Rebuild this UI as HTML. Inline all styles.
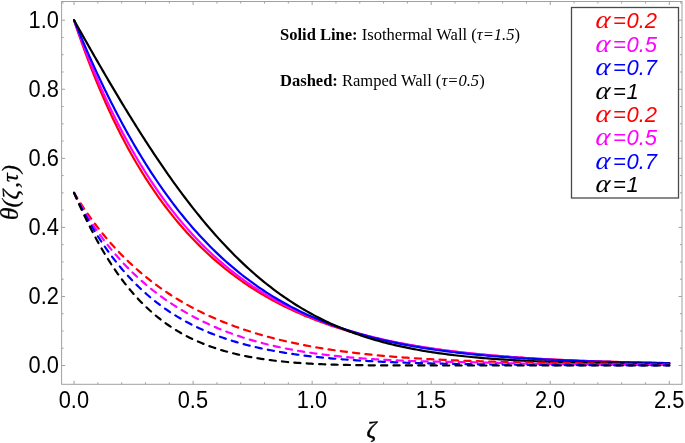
<!DOCTYPE html>
<html><head><meta charset="utf-8"><style>html,body{margin:0;padding:0;background:#fff;}svg{display:block;will-change:transform;}</style></head>
<body><svg width="685" height="443" viewBox="0 0 685 443">
<rect width="685" height="443" fill="#fff"/>
<g stroke="#a0a0a0" stroke-width="1" fill="none">
<rect x="61.6" y="1.5" width="620.4" height="382.8"/>
<line x1="74.05" y1="384.3" x2="74.05" y2="380.8"/><line x1="74.05" y1="1.5" x2="74.05" y2="5.0"/><line x1="97.86" y1="384.3" x2="97.86" y2="382.3"/><line x1="97.86" y1="1.5" x2="97.86" y2="3.5"/><line x1="121.67" y1="384.3" x2="121.67" y2="382.3"/><line x1="121.67" y1="1.5" x2="121.67" y2="3.5"/><line x1="145.48" y1="384.3" x2="145.48" y2="382.3"/><line x1="145.48" y1="1.5" x2="145.48" y2="3.5"/><line x1="169.29" y1="384.3" x2="169.29" y2="382.3"/><line x1="169.29" y1="1.5" x2="169.29" y2="3.5"/><line x1="193.10" y1="384.3" x2="193.10" y2="380.8"/><line x1="193.10" y1="1.5" x2="193.10" y2="5.0"/><line x1="216.91" y1="384.3" x2="216.91" y2="382.3"/><line x1="216.91" y1="1.5" x2="216.91" y2="3.5"/><line x1="240.72" y1="384.3" x2="240.72" y2="382.3"/><line x1="240.72" y1="1.5" x2="240.72" y2="3.5"/><line x1="264.53" y1="384.3" x2="264.53" y2="382.3"/><line x1="264.53" y1="1.5" x2="264.53" y2="3.5"/><line x1="288.34" y1="384.3" x2="288.34" y2="382.3"/><line x1="288.34" y1="1.5" x2="288.34" y2="3.5"/><line x1="312.15" y1="384.3" x2="312.15" y2="380.8"/><line x1="312.15" y1="1.5" x2="312.15" y2="5.0"/><line x1="335.96" y1="384.3" x2="335.96" y2="382.3"/><line x1="335.96" y1="1.5" x2="335.96" y2="3.5"/><line x1="359.77" y1="384.3" x2="359.77" y2="382.3"/><line x1="359.77" y1="1.5" x2="359.77" y2="3.5"/><line x1="383.58" y1="384.3" x2="383.58" y2="382.3"/><line x1="383.58" y1="1.5" x2="383.58" y2="3.5"/><line x1="407.39" y1="384.3" x2="407.39" y2="382.3"/><line x1="407.39" y1="1.5" x2="407.39" y2="3.5"/><line x1="431.20" y1="384.3" x2="431.20" y2="380.8"/><line x1="431.20" y1="1.5" x2="431.20" y2="5.0"/><line x1="455.01" y1="384.3" x2="455.01" y2="382.3"/><line x1="455.01" y1="1.5" x2="455.01" y2="3.5"/><line x1="478.82" y1="384.3" x2="478.82" y2="382.3"/><line x1="478.82" y1="1.5" x2="478.82" y2="3.5"/><line x1="502.63" y1="384.3" x2="502.63" y2="382.3"/><line x1="502.63" y1="1.5" x2="502.63" y2="3.5"/><line x1="526.44" y1="384.3" x2="526.44" y2="382.3"/><line x1="526.44" y1="1.5" x2="526.44" y2="3.5"/><line x1="550.25" y1="384.3" x2="550.25" y2="380.8"/><line x1="550.25" y1="1.5" x2="550.25" y2="5.0"/><line x1="574.06" y1="384.3" x2="574.06" y2="382.3"/><line x1="574.06" y1="1.5" x2="574.06" y2="3.5"/><line x1="597.87" y1="384.3" x2="597.87" y2="382.3"/><line x1="597.87" y1="1.5" x2="597.87" y2="3.5"/><line x1="621.68" y1="384.3" x2="621.68" y2="382.3"/><line x1="621.68" y1="1.5" x2="621.68" y2="3.5"/><line x1="645.49" y1="384.3" x2="645.49" y2="382.3"/><line x1="645.49" y1="1.5" x2="645.49" y2="3.5"/><line x1="669.30" y1="384.3" x2="669.30" y2="380.8"/><line x1="669.30" y1="1.5" x2="669.30" y2="5.0"/><line x1="61.6" y1="365.50" x2="65.1" y2="365.50"/><line x1="682.0" y1="365.50" x2="678.5" y2="365.50"/><line x1="61.6" y1="348.24" x2="63.6" y2="348.24"/><line x1="682.0" y1="348.24" x2="680.0" y2="348.24"/><line x1="61.6" y1="330.97" x2="63.6" y2="330.97"/><line x1="682.0" y1="330.97" x2="680.0" y2="330.97"/><line x1="61.6" y1="313.70" x2="63.6" y2="313.70"/><line x1="682.0" y1="313.70" x2="680.0" y2="313.70"/><line x1="61.6" y1="296.44" x2="65.1" y2="296.44"/><line x1="682.0" y1="296.44" x2="678.5" y2="296.44"/><line x1="61.6" y1="279.18" x2="63.6" y2="279.18"/><line x1="682.0" y1="279.18" x2="680.0" y2="279.18"/><line x1="61.6" y1="261.91" x2="63.6" y2="261.91"/><line x1="682.0" y1="261.91" x2="680.0" y2="261.91"/><line x1="61.6" y1="244.64" x2="63.6" y2="244.64"/><line x1="682.0" y1="244.64" x2="680.0" y2="244.64"/><line x1="61.6" y1="227.38" x2="65.1" y2="227.38"/><line x1="682.0" y1="227.38" x2="678.5" y2="227.38"/><line x1="61.6" y1="210.11" x2="63.6" y2="210.11"/><line x1="682.0" y1="210.11" x2="680.0" y2="210.11"/><line x1="61.6" y1="192.85" x2="63.6" y2="192.85"/><line x1="682.0" y1="192.85" x2="680.0" y2="192.85"/><line x1="61.6" y1="175.58" x2="63.6" y2="175.58"/><line x1="682.0" y1="175.58" x2="680.0" y2="175.58"/><line x1="61.6" y1="158.32" x2="65.1" y2="158.32"/><line x1="682.0" y1="158.32" x2="678.5" y2="158.32"/><line x1="61.6" y1="141.05" x2="63.6" y2="141.05"/><line x1="682.0" y1="141.05" x2="680.0" y2="141.05"/><line x1="61.6" y1="123.79" x2="63.6" y2="123.79"/><line x1="682.0" y1="123.79" x2="680.0" y2="123.79"/><line x1="61.6" y1="106.52" x2="63.6" y2="106.52"/><line x1="682.0" y1="106.52" x2="680.0" y2="106.52"/><line x1="61.6" y1="89.26" x2="65.1" y2="89.26"/><line x1="682.0" y1="89.26" x2="678.5" y2="89.26"/><line x1="61.6" y1="71.99" x2="63.6" y2="71.99"/><line x1="682.0" y1="71.99" x2="680.0" y2="71.99"/><line x1="61.6" y1="54.73" x2="63.6" y2="54.73"/><line x1="682.0" y1="54.73" x2="680.0" y2="54.73"/><line x1="61.6" y1="37.46" x2="63.6" y2="37.46"/><line x1="682.0" y1="37.46" x2="680.0" y2="37.46"/><line x1="61.6" y1="20.20" x2="65.1" y2="20.20"/><line x1="682.0" y1="20.20" x2="678.5" y2="20.20"/><line x1="61.6" y1="2.93" x2="63.6" y2="2.93"/><line x1="682.0" y1="2.93" x2="680.0" y2="2.93"/>
</g>
<g font-family="Liberation Sans" font-size="22.5" fill="#000">
<text transform="translate(58.9,373.00) scale(0.97,1.09)" text-anchor="end">0.0</text><text transform="translate(58.9,303.94) scale(0.97,1.09)" text-anchor="end">0.2</text><text transform="translate(58.9,234.88) scale(0.97,1.09)" text-anchor="end">0.4</text><text transform="translate(58.9,165.82) scale(0.97,1.09)" text-anchor="end">0.6</text><text transform="translate(58.9,96.76) scale(0.97,1.09)" text-anchor="end">0.8</text><text transform="translate(58.9,27.70) scale(0.97,1.09)" text-anchor="end">1.0</text><text transform="translate(73.85,407.9) scale(0.97,1.09)" text-anchor="middle">0.0</text><text transform="translate(192.90,407.9) scale(0.97,1.09)" text-anchor="middle">0.5</text><text transform="translate(311.95,407.9) scale(0.97,1.09)" text-anchor="middle">1.0</text><text transform="translate(431.00,407.9) scale(0.97,1.09)" text-anchor="middle">1.5</text><text transform="translate(550.05,407.9) scale(0.97,1.09)" text-anchor="middle">2.0</text><text transform="translate(669.10,407.9) scale(0.97,1.09)" text-anchor="middle">2.5</text>
</g>
<g font-family="Liberation Serif" font-size="16.55" fill="#000">
<text x="280" y="39.6"><tspan font-weight="bold">Solid Line:</tspan> Isothermal Wall (<tspan font-style="italic">τ=1.5</tspan>)</text>
<text x="280" y="85.9"><tspan font-weight="bold">Dashed:</tspan> Ramped Wall (<tspan font-style="italic">τ=0.5</tspan>)</text>
</g>
<text x="366.6" y="436.9" font-family="Liberation Serif" font-style="italic" font-size="24" stroke="#000" stroke-width="0.5">ζ</text>
<g transform="translate(17.6,220) rotate(-90)" font-family="Liberation Serif" font-style="italic" font-size="24" stroke="#000" stroke-width="0.25"><text x="-0.3" font-size="26">θ</text><text x="12.5">(</text><text x="20.5">ζ</text><text x="32">,</text><text x="38">τ</text><text x="47">)</text></g>
<g clip-path="url(#c)">
<polyline points="74.05,20.20 75.24,23.78 76.43,27.32 77.62,30.82 78.81,34.29 80.00,37.71 81.19,41.09 82.38,44.43 83.57,47.74 84.76,51.01 85.95,54.24 87.15,57.44 88.34,60.60 89.53,63.72 90.72,66.81 91.91,69.86 93.10,72.88 94.29,75.87 95.48,78.82 96.67,81.74 97.86,84.63 99.05,87.49 100.24,90.31 101.43,93.11 102.62,95.87 103.81,98.61 105.00,101.31 106.19,103.98 107.38,106.63 108.57,109.24 109.76,111.83 110.96,114.39 112.15,116.92 113.34,119.42 114.53,121.90 115.72,124.35 116.91,126.77 118.10,129.17 119.29,131.54 120.48,133.89 121.67,136.21 122.86,138.51 124.05,140.78 125.24,143.03 126.43,145.25 127.62,147.45 128.81,149.63 130.00,151.79 131.19,153.92 132.38,156.03 133.57,158.11 134.77,160.18 135.96,162.22 137.15,164.25 138.34,166.25 139.53,168.23 140.72,170.19 141.91,172.13 143.10,174.04 144.29,175.94 145.48,177.82 146.67,179.68 149.06,183.35 151.44,186.95 153.83,190.47 156.22,193.92 158.60,197.30 160.99,200.61 163.38,203.85 165.76,207.03 168.15,210.14 170.53,213.19 172.92,216.18 175.31,219.11 177.69,221.98 180.08,224.80 182.47,227.55 184.85,230.26 187.24,232.90 189.63,235.50 192.01,238.05 194.40,240.54 196.79,242.98 199.17,245.38 201.56,247.73 203.94,250.04 206.33,252.29 208.72,254.51 211.10,256.68 213.49,258.81 215.88,260.90 218.26,262.94 220.65,264.95 223.04,266.92 225.42,268.85 227.81,270.74 230.20,272.60 232.58,274.42 234.97,276.20 237.36,277.95 239.74,279.67 242.13,281.35 244.51,283.00 246.90,284.62 249.29,286.21 251.67,287.76 254.06,289.29 256.45,290.79 258.83,292.26 261.22,293.70 263.61,295.11 265.99,296.50 268.38,297.86 270.77,299.19 273.15,300.50 275.54,301.78 277.92,303.04 280.31,304.27 282.70,305.48 285.08,306.67 287.47,307.83 289.86,308.98 292.24,310.10 294.63,311.19 297.02,312.27 299.40,313.33 301.79,314.36 304.18,315.38 306.56,316.38 308.95,317.35 311.33,318.31 313.72,319.25 316.11,320.18 318.49,321.08 320.88,321.97 323.27,322.84 325.65,323.69 328.04,324.53 330.43,325.35 332.81,326.15 335.20,326.94 337.59,327.71 339.97,328.47 342.36,329.21 344.74,329.94 347.13,330.66 349.52,331.36 351.90,332.05 354.29,332.72 356.68,333.38 359.06,334.03 361.45,334.66 363.84,335.29 366.22,335.90 368.61,336.49 371.00,337.08 373.38,337.66 375.77,338.22 378.15,338.77 380.54,339.31 382.93,339.85 385.31,340.37 387.70,340.88 390.09,341.38 392.47,341.87 394.86,342.35 397.25,342.82 399.63,343.28 402.02,343.73 404.41,344.17 406.79,344.61 409.18,345.03 411.56,345.45 413.95,345.86 416.34,346.26 418.72,346.65 421.11,347.04 423.50,347.41 425.88,347.78 428.27,348.14 430.66,348.50 433.04,348.85 435.43,349.19 437.82,349.52 440.20,349.84 442.59,350.16 444.98,350.48 447.36,350.78 449.75,351.08 452.13,351.38 454.52,351.67 456.91,351.95 459.29,352.23 461.68,352.50 464.07,352.76 466.45,353.02 468.84,353.28 471.23,353.52 473.61,353.77 476.00,354.01 478.39,354.24 480.77,354.47 483.16,354.69 485.54,354.91 487.93,355.13 490.32,355.34 492.70,355.55 495.09,355.75 497.48,355.95 499.86,356.14 502.25,356.33 504.64,356.51 507.02,356.70 509.41,356.87 511.80,357.05 514.18,357.22 516.57,357.38 518.95,357.55 521.34,357.71 523.73,357.86 526.11,358.02 528.50,358.17 530.89,358.31 533.27,358.45 535.66,358.60 538.05,358.73 540.43,358.87 542.82,359.00 545.21,359.13 547.59,359.25 549.98,359.38 552.36,359.50 554.75,359.61 557.14,359.73 559.52,359.84 561.91,359.95 564.30,360.06 566.68,360.17 569.07,360.27 571.46,360.37 573.84,360.47 576.23,360.57 578.62,360.66 581.00,360.76 583.39,360.85 585.77,360.94 588.16,361.02 590.55,361.11 592.93,361.19 595.32,361.27 597.71,361.35 600.09,361.43 602.48,361.51 604.87,361.58 607.25,361.65 609.64,361.72 612.03,361.79 614.41,361.86 616.80,361.93 619.18,361.99 621.57,362.06 623.96,362.12 626.34,362.18 628.73,362.24 631.12,362.30 633.50,362.36 635.89,362.41 638.28,362.47 640.66,362.52 643.05,362.57 645.44,362.62 647.82,362.67 650.21,362.72 652.59,362.77 654.98,362.82 657.37,362.86 659.75,362.91 662.14,362.95 664.53,362.99 666.91,363.03 669.30,363.07" fill="none" stroke="#ff0000" stroke-width="2.2" stroke-linecap="round"/><polyline points="74.05,20.20 75.24,23.50 76.43,26.78 77.62,30.02 78.81,33.23 80.00,36.41 81.19,39.56 82.38,42.69 83.57,45.78 84.76,48.84 85.95,51.88 87.15,54.89 88.34,57.87 89.53,60.82 90.72,63.74 91.91,66.64 93.10,69.51 94.29,72.35 95.48,75.17 96.67,77.96 97.86,80.72 99.05,83.46 100.24,86.17 101.43,88.86 102.62,91.52 103.81,94.16 105.00,96.77 106.19,99.36 107.38,101.92 108.57,104.46 109.76,106.98 110.96,109.47 112.15,111.94 113.34,114.38 114.53,116.80 115.72,119.20 116.91,121.58 118.10,123.94 119.29,126.27 120.48,128.58 121.67,130.87 122.86,133.14 124.05,135.38 125.24,137.61 126.43,139.81 127.62,142.00 128.81,144.16 130.00,146.30 131.19,148.43 132.38,150.53 133.57,152.61 134.77,154.68 135.96,156.72 137.15,158.74 138.34,160.75 139.53,162.74 140.72,164.71 141.91,166.65 143.10,168.59 144.29,170.50 145.48,172.39 146.67,174.27 149.06,177.98 151.44,181.62 153.83,185.19 156.22,188.69 158.60,192.13 160.99,195.50 163.38,198.81 165.76,202.06 168.15,205.24 170.53,208.37 172.92,211.43 175.31,214.44 177.69,217.39 180.08,220.28 182.47,223.12 184.85,225.91 187.24,228.64 189.63,231.32 192.01,233.95 194.40,236.53 196.79,239.06 199.17,241.54 201.56,243.98 203.94,246.37 206.33,248.71 208.72,251.01 211.10,253.26 213.49,255.47 215.88,257.64 218.26,259.77 220.65,261.86 223.04,263.90 225.42,265.91 227.81,267.88 230.20,269.81 232.58,271.70 234.97,273.56 237.36,275.38 239.74,277.17 242.13,278.92 244.51,280.64 246.90,282.32 249.29,283.98 251.67,285.60 254.06,287.19 256.45,288.75 258.83,290.27 261.22,291.77 263.61,293.24 265.99,294.68 268.38,296.10 270.77,297.48 273.15,298.84 275.54,300.18 277.92,301.48 280.31,302.76 282.70,304.02 285.08,305.25 287.47,306.46 289.86,307.64 292.24,308.80 294.63,309.94 297.02,311.06 299.40,312.15 301.79,313.22 304.18,314.28 306.56,315.31 308.95,316.32 311.33,317.31 313.72,318.28 316.11,319.23 318.49,320.17 320.88,321.08 323.27,321.98 325.65,322.86 328.04,323.72 330.43,324.57 332.81,325.39 335.20,326.21 337.59,327.00 339.97,327.78 342.36,328.55 344.74,329.30 347.13,330.03 349.52,330.75 351.90,331.46 354.29,332.15 356.68,332.83 359.06,333.49 361.45,334.14 363.84,334.78 366.22,335.41 368.61,336.02 371.00,336.62 373.38,337.21 375.77,337.79 378.15,338.35 380.54,338.91 382.93,339.45 385.31,339.98 387.70,340.50 390.09,341.01 392.47,341.52 394.86,342.01 397.25,342.49 399.63,342.96 402.02,343.42 404.41,343.87 406.79,344.32 409.18,344.75 411.56,345.18 413.95,345.59 416.34,346.00 418.72,346.40 421.11,346.79 423.50,347.18 425.88,347.55 428.27,347.92 430.66,348.28 433.04,348.64 435.43,348.98 437.82,349.32 440.20,349.66 442.59,349.98 444.98,350.30 447.36,350.62 449.75,350.92 452.13,351.22 454.52,351.52 456.91,351.80 459.29,352.09 461.68,352.36 464.07,352.63 466.45,352.90 468.84,353.16 471.23,353.41 473.61,353.66 476.00,353.91 478.39,354.15 480.77,354.38 483.16,354.61 485.54,354.84 487.93,355.06 490.32,355.27 492.70,355.48 495.09,355.69 497.48,355.89 499.86,356.09 502.25,356.29 504.64,356.48 507.02,356.66 509.41,356.84 511.80,357.02 514.18,357.20 516.57,357.37 518.95,357.54 521.34,357.70 523.73,357.86 526.11,358.02 528.50,358.18 530.89,358.33 533.27,358.48 535.66,358.62 538.05,358.76 540.43,358.90 542.82,359.04 545.21,359.17 547.59,359.30 549.98,359.43 552.36,359.56 554.75,359.68 557.14,359.80 559.52,359.92 561.91,360.03 564.30,360.14 566.68,360.25 569.07,360.36 571.46,360.47 573.84,360.57 576.23,360.67 578.62,360.77 581.00,360.87 583.39,360.97 585.77,361.06 588.16,361.15 590.55,361.24 592.93,361.33 595.32,361.41 597.71,361.50 600.09,361.58 602.48,361.66 604.87,361.74 607.25,361.82 609.64,361.89 612.03,361.97 614.41,362.04 616.80,362.11 619.18,362.18 621.57,362.25 623.96,362.31 626.34,362.38 628.73,362.44 631.12,362.50 633.50,362.57 635.89,362.63 638.28,362.68 640.66,362.74 643.05,362.80 645.44,362.85 647.82,362.91 650.21,362.96 652.59,363.01 654.98,363.06 657.37,363.11 659.75,363.16 662.14,363.21 664.53,363.25 666.91,363.30 669.30,363.34" fill="none" stroke="#ff00ff" stroke-width="2.2" stroke-linecap="round"/><polyline points="74.05,20.20 75.24,23.11 76.43,26.01 77.62,28.88 78.81,31.74 80.00,34.57 81.19,37.39 82.38,40.19 83.57,42.97 84.76,45.74 85.95,48.48 87.15,51.21 88.34,53.91 89.53,56.60 90.72,59.27 91.91,61.92 93.10,64.56 94.29,67.18 95.48,69.77 96.67,72.35 97.86,74.92 99.05,77.46 100.24,79.99 101.43,82.50 102.62,84.99 103.81,87.46 105.00,89.92 106.19,92.35 107.38,94.78 108.57,97.18 109.76,99.57 110.96,101.94 112.15,104.29 113.34,106.62 114.53,108.94 115.72,111.24 116.91,113.53 118.10,115.80 119.29,118.05 120.48,120.28 121.67,122.50 122.86,124.70 124.05,126.89 125.24,129.05 126.43,131.21 127.62,133.34 128.81,135.46 130.00,137.57 131.19,139.66 132.38,141.73 133.57,143.78 134.77,145.83 135.96,147.85 137.15,149.86 138.34,151.85 139.53,153.83 140.72,155.80 141.91,157.74 143.10,159.68 144.29,161.60 145.48,163.50 146.67,165.39 149.06,169.13 151.44,172.81 153.83,176.43 156.22,179.99 158.60,183.50 160.99,186.95 163.38,190.34 165.76,193.68 168.15,196.96 170.53,200.19 172.92,203.37 175.31,206.49 177.69,209.56 180.08,212.58 182.47,215.55 184.85,218.47 187.24,221.34 189.63,224.16 192.01,226.93 194.40,229.65 196.79,232.33 199.17,234.96 201.56,237.54 203.94,240.08 206.33,242.57 208.72,245.02 211.10,247.42 213.49,249.79 215.88,252.11 218.26,254.38 220.65,256.62 223.04,258.82 225.42,260.98 227.81,263.09 230.20,265.17 232.58,267.21 234.97,269.21 237.36,271.18 239.74,273.11 242.13,275.00 244.51,276.86 246.90,278.68 249.29,280.47 251.67,282.22 254.06,283.94 256.45,285.63 258.83,287.29 261.22,288.91 263.61,290.51 265.99,292.07 268.38,293.60 270.77,295.10 273.15,296.57 275.54,298.02 277.92,299.43 280.31,300.82 282.70,302.18 285.08,303.52 287.47,304.82 289.86,306.11 292.24,307.36 294.63,308.59 297.02,309.80 299.40,310.98 301.79,312.14 304.18,313.27 306.56,314.38 308.95,315.47 311.33,316.54 313.72,317.59 316.11,318.61 318.49,319.61 320.88,320.59 323.27,321.56 325.65,322.50 328.04,323.42 330.43,324.33 332.81,325.21 335.20,326.08 337.59,326.92 339.97,327.76 342.36,328.57 344.74,329.36 347.13,330.14 349.52,330.91 351.90,331.65 354.29,332.39 356.68,333.10 359.06,333.80 361.45,334.49 363.84,335.16 366.22,335.81 368.61,336.46 371.00,337.09 373.38,337.70 375.77,338.30 378.15,338.89 380.54,339.47 382.93,340.03 385.31,340.58 387.70,341.12 390.09,341.65 392.47,342.17 394.86,342.67 397.25,343.17 399.63,343.65 402.02,344.13 404.41,344.59 406.79,345.04 409.18,345.48 411.56,345.92 413.95,346.34 416.34,346.75 418.72,347.16 421.11,347.55 423.50,347.94 425.88,348.32 428.27,348.69 430.66,349.05 433.04,349.41 435.43,349.75 437.82,350.09 440.20,350.42 442.59,350.75 444.98,351.06 447.36,351.37 449.75,351.68 452.13,351.97 454.52,352.26 456.91,352.54 459.29,352.82 461.68,353.09 464.07,353.35 466.45,353.61 468.84,353.87 471.23,354.11 473.61,354.35 476.00,354.59 478.39,354.82 480.77,355.04 483.16,355.26 485.54,355.48 487.93,355.69 490.32,355.90 492.70,356.10 495.09,356.29 497.48,356.49 499.86,356.67 502.25,356.86 504.64,357.04 507.02,357.21 509.41,357.38 511.80,357.55 514.18,357.71 516.57,357.87 518.95,358.03 521.34,358.18 523.73,358.33 526.11,358.48 528.50,358.62 530.89,358.76 533.27,358.90 535.66,359.03 538.05,359.16 540.43,359.29 542.82,359.41 545.21,359.54 547.59,359.65 549.98,359.77 552.36,359.88 554.75,359.99 557.14,360.10 559.52,360.21 561.91,360.31 564.30,360.41 566.68,360.51 569.07,360.61 571.46,360.70 573.84,360.80 576.23,360.89 578.62,360.98 581.00,361.06 583.39,361.15 585.77,361.23 588.16,361.31 590.55,361.39 592.93,361.47 595.32,361.54 597.71,361.61 600.09,361.69 602.48,361.76 604.87,361.83 607.25,361.89 609.64,361.96 612.03,362.02 614.41,362.09 616.80,362.15 619.18,362.21 621.57,362.26 623.96,362.32 626.34,362.38 628.73,362.43 631.12,362.49 633.50,362.54 635.89,362.59 638.28,362.64 640.66,362.69 643.05,362.74 645.44,362.78 647.82,362.83 650.21,362.87 652.59,362.92 654.98,362.96 657.37,363.00 659.75,363.04 662.14,363.08 664.53,363.12 666.91,363.16 669.30,363.20" fill="none" stroke="#0000ff" stroke-width="2.2" stroke-linecap="round"/><polyline points="74.05,20.20 75.24,22.32 76.43,24.44 77.62,26.56 78.81,28.67 80.00,30.78 81.19,32.90 82.38,35.00 83.57,37.11 84.76,39.21 85.95,41.31 87.15,43.41 88.34,45.50 89.53,47.59 90.72,49.68 91.91,51.77 93.10,53.85 94.29,55.93 95.48,58.00 96.67,60.08 97.86,62.14 99.05,64.21 100.24,66.27 101.43,68.32 102.62,70.38 103.81,72.42 105.00,74.47 106.19,76.51 107.38,78.54 108.57,80.57 109.76,82.60 110.96,84.62 112.15,86.64 113.34,88.65 114.53,90.66 115.72,92.66 116.91,94.65 118.10,96.65 119.29,98.63 120.48,100.61 121.67,102.59 122.86,104.56 124.05,106.52 125.24,108.48 126.43,110.43 127.62,112.38 128.81,114.32 130.00,116.25 131.19,118.18 132.38,120.10 133.57,122.02 134.77,123.93 135.96,125.83 137.15,127.72 138.34,129.61 139.53,131.50 140.72,133.37 141.91,135.24 143.10,137.10 144.29,138.96 145.48,140.81 146.67,142.65 149.06,146.31 151.44,149.95 153.83,153.56 156.22,157.14 158.60,160.68 160.99,164.20 163.38,167.68 165.76,171.13 168.15,174.55 170.53,177.93 172.92,181.28 175.31,184.60 177.69,187.88 180.08,191.12 182.47,194.33 184.85,197.51 187.24,200.65 189.63,203.75 192.01,206.82 194.40,209.85 196.79,212.85 199.17,215.80 201.56,218.73 203.94,221.61 206.33,224.45 208.72,227.26 211.10,230.03 213.49,232.77 215.88,235.46 218.26,238.12 220.65,240.74 223.04,243.33 225.42,245.87 227.81,248.38 230.20,250.85 232.58,253.29 234.97,255.68 237.36,258.04 239.74,260.36 242.13,262.65 244.51,264.89 246.90,267.10 249.29,269.28 251.67,271.42 254.06,273.52 256.45,275.58 258.83,277.61 261.22,279.61 263.61,281.57 265.99,283.49 268.38,285.38 270.77,287.24 273.15,289.06 275.54,290.84 277.92,292.60 280.31,294.32 282.70,296.00 285.08,297.66 287.47,299.28 289.86,300.87 292.24,302.43 294.63,303.96 297.02,305.45 299.40,306.92 301.79,308.36 304.18,309.76 306.56,311.14 308.95,312.49 311.33,313.81 313.72,315.10 316.11,316.36 318.49,317.60 320.88,318.81 323.27,319.99 325.65,321.15 328.04,322.28 330.43,323.38 332.81,324.46 335.20,325.52 337.59,326.55 339.97,327.56 342.36,328.54 344.74,329.50 347.13,330.44 349.52,331.36 351.90,332.25 354.29,333.12 356.68,333.98 359.06,334.81 361.45,335.62 363.84,336.41 366.22,337.18 368.61,337.94 371.00,338.67 373.38,339.39 375.77,340.09 378.15,340.77 380.54,341.43 382.93,342.08 385.31,342.71 387.70,343.32 390.09,343.92 392.47,344.50 394.86,345.07 397.25,345.62 399.63,346.16 402.02,346.68 404.41,347.19 406.79,347.69 409.18,348.17 411.56,348.64 413.95,349.10 416.34,349.54 418.72,349.98 421.11,350.40 423.50,350.81 425.88,351.21 428.27,351.60 430.66,351.97 433.04,352.34 435.43,352.70 437.82,353.04 440.20,353.38 442.59,353.71 444.98,354.03 447.36,354.34 449.75,354.64 452.13,354.93 454.52,355.22 456.91,355.49 459.29,355.76 461.68,356.02 464.07,356.27 466.45,356.52 468.84,356.76 471.23,356.99 473.61,357.22 476.00,357.44 478.39,357.65 480.77,357.86 483.16,358.06 485.54,358.25 487.93,358.44 490.32,358.62 492.70,358.80 495.09,358.98 497.48,359.14 499.86,359.31 502.25,359.47 504.64,359.62 507.02,359.77 509.41,359.91 511.80,360.05 514.18,360.19 516.57,360.32 518.95,360.45 521.34,360.58 523.73,360.70 526.11,360.81 528.50,360.93 530.89,361.04 533.27,361.15 535.66,361.25 538.05,361.35 540.43,361.45 542.82,361.54 545.21,361.64 547.59,361.73 549.98,361.81 552.36,361.90 554.75,361.98 557.14,362.06 559.52,362.13 561.91,362.21 564.30,362.28 566.68,362.35 569.07,362.42 571.46,362.48 573.84,362.55 576.23,362.61 578.62,362.67 581.00,362.73 583.39,362.78 585.77,362.84 588.16,362.89 590.55,362.94 592.93,362.99 595.32,363.04 597.71,363.08 600.09,363.13 602.48,363.17 604.87,363.21 607.25,363.26 609.64,363.30 612.03,363.33 614.41,363.37 616.80,363.41 619.18,363.44 621.57,363.47 623.96,363.51 626.34,363.54 628.73,363.57 631.12,363.60 633.50,363.62 635.89,363.65 638.28,363.68 640.66,363.70 643.05,363.73 645.44,363.75 647.82,363.77 650.21,363.79 652.59,363.81 654.98,363.83 657.37,363.85 659.75,363.87 662.14,363.89 664.53,363.90 666.91,363.92 669.30,363.93" fill="none" stroke="#000000" stroke-width="2.2" stroke-linecap="round"/><polyline points="74.05,192.85 75.24,194.80 76.43,196.73 77.62,198.63 78.81,200.51 80.00,202.37 81.19,204.20 82.38,206.01 83.57,207.80 84.76,209.56 85.95,211.31 87.15,213.03 88.34,214.73 89.53,216.41 90.72,218.07 91.91,219.71 93.10,221.32 94.29,222.92 95.48,224.50 96.67,226.07 97.86,227.61 99.05,229.13 100.24,230.64 101.43,232.13 102.62,233.60 103.81,235.05 105.00,236.48 106.19,237.90 107.38,239.30 108.57,240.69 109.76,242.06 110.96,243.41 112.15,244.75 113.34,246.07 114.53,247.38 115.72,248.67 116.91,249.95 118.10,251.21 119.29,252.46 120.48,253.69 121.67,254.91 122.86,256.11 124.05,257.30 125.24,258.48 126.43,259.65 127.62,260.80 128.81,261.94 130.00,263.06 131.19,264.17 132.38,265.27 133.57,266.36 134.77,267.44 135.96,268.50 137.15,269.55 138.34,270.59 139.53,271.62 140.72,272.64 141.91,273.65 143.10,274.64 144.29,275.63 145.48,276.60 146.67,277.56 149.06,279.46 151.44,281.32 153.83,283.13 156.22,284.91 158.60,286.65 160.99,288.35 163.38,290.01 165.76,291.64 168.15,293.23 170.53,294.79 172.92,296.32 175.31,297.81 177.69,299.27 180.08,300.70 182.47,302.10 184.85,303.47 187.24,304.82 189.63,306.13 192.01,307.41 194.40,308.67 196.79,309.90 199.17,311.11 201.56,312.29 203.94,313.45 206.33,314.58 208.72,315.69 211.10,316.77 213.49,317.83 215.88,318.87 218.26,319.89 220.65,320.88 223.04,321.86 225.42,322.81 227.81,323.75 230.20,324.66 232.58,325.56 234.97,326.43 237.36,327.29 239.74,328.13 242.13,328.95 244.51,329.76 246.90,330.55 249.29,331.32 251.67,332.07 254.06,332.81 256.45,333.53 258.83,334.24 261.22,334.93 263.61,335.61 265.99,336.27 268.38,336.92 270.77,337.56 273.15,338.18 275.54,338.79 277.92,339.38 280.31,339.96 282.70,340.53 285.08,341.09 287.47,341.63 289.86,342.17 292.24,342.69 294.63,343.20 297.02,343.70 299.40,344.18 301.79,344.66 304.18,345.13 306.56,345.58 308.95,346.03 311.33,346.46 313.72,346.89 316.11,347.31 318.49,347.71 320.88,348.11 323.27,348.50 325.65,348.88 328.04,349.25 330.43,349.62 332.81,349.97 335.20,350.32 337.59,350.66 339.97,350.99 342.36,351.31 344.74,351.63 347.13,351.94 349.52,352.24 351.90,352.54 354.29,352.82 356.68,353.11 359.06,353.38 361.45,353.65 363.84,353.91 366.22,354.17 368.61,354.42 371.00,354.66 373.38,354.90 375.77,355.13 378.15,355.36 380.54,355.58 382.93,355.80 385.31,356.01 387.70,356.22 390.09,356.42 392.47,356.62 394.86,356.81 397.25,356.99 399.63,357.18 402.02,357.36 404.41,357.53 406.79,357.70 409.18,357.86 411.56,358.03 413.95,358.18 416.34,358.34 418.72,358.49 421.11,358.63 423.50,358.78 425.88,358.91 428.27,359.05 430.66,359.18 433.04,359.31 435.43,359.44 437.82,359.56 440.20,359.68 442.59,359.80 444.98,359.91 447.36,360.02 449.75,360.13 452.13,360.23 454.52,360.33 456.91,360.43 459.29,360.53 461.68,360.63 464.07,360.72 466.45,360.81 468.84,360.90 471.23,360.98 473.61,361.06 476.00,361.14 478.39,361.22 480.77,361.30 483.16,361.37 485.54,361.45 487.93,361.52 490.32,361.58 492.70,361.65 495.09,361.72 497.48,361.78 499.86,361.84 502.25,361.90 504.64,361.96 507.02,362.01 509.41,362.07 511.80,362.12 514.18,362.17 516.57,362.22 518.95,362.27 521.34,362.32 523.73,362.37 526.11,362.41 528.50,362.45 530.89,362.49 533.27,362.54 535.66,362.57 538.05,362.61 540.43,362.65 542.82,362.68 545.21,362.72 547.59,362.75 549.98,362.78 552.36,362.81 554.75,362.84 557.14,362.87 559.52,362.90 561.91,362.93 564.30,362.95 566.68,362.98 569.07,363.00 571.46,363.05 573.84,363.10 576.23,363.15 578.62,363.19 581.00,363.24 583.39,363.29 585.77,363.33 588.16,363.37 590.55,363.42 592.93,363.46 595.32,363.50 597.71,363.54 600.09,363.58 602.48,363.62 604.87,363.66 607.25,363.69 609.64,363.73 612.03,363.77 614.41,363.80 616.80,363.84 619.18,363.87 621.57,363.90 623.96,363.93 626.34,363.97 628.73,364.00 631.12,364.03 633.50,364.06 635.89,364.09 638.28,364.11 640.66,364.14 643.05,364.17 645.44,364.20 647.82,364.22 650.21,364.25 652.59,364.27 654.98,364.30 657.37,364.32 659.75,364.35 662.14,364.37 664.53,364.39 666.91,364.42 669.30,364.44" fill="none" stroke="#ff0000" stroke-width="2.2" stroke-linecap="round" stroke-dasharray="6.2 6.2"/><polyline points="74.05,192.85 75.24,195.10 76.43,197.31 77.62,199.49 78.81,201.63 80.00,203.74 81.19,205.82 82.38,207.87 83.57,209.89 84.76,211.88 85.95,213.83 87.15,215.76 88.34,217.66 89.53,219.53 90.72,221.38 91.91,223.20 93.10,224.99 94.29,226.76 95.48,228.50 96.67,230.22 97.86,231.91 99.05,233.58 100.24,235.23 101.43,236.86 102.62,238.46 103.81,240.04 105.00,241.60 106.19,243.14 107.38,244.65 108.57,246.15 109.76,247.63 110.96,249.08 112.15,250.52 113.34,251.94 114.53,253.34 115.72,254.73 116.91,256.09 118.10,257.44 119.29,258.77 120.48,260.09 121.67,261.38 122.86,262.66 124.05,263.93 125.24,265.18 126.43,266.41 127.62,267.63 128.81,268.83 130.00,270.02 131.19,271.19 132.38,272.35 133.57,273.50 134.77,274.63 135.96,275.75 137.15,276.85 138.34,277.94 139.53,279.02 140.72,280.08 141.91,281.13 143.10,282.17 144.29,283.20 145.48,284.22 146.67,285.22 149.06,287.20 151.44,289.12 153.83,291.01 156.22,292.85 158.60,294.65 160.99,296.41 163.38,298.12 165.76,299.80 168.15,301.44 170.53,303.04 172.92,304.61 175.31,306.14 177.69,307.63 180.08,309.09 182.47,310.52 184.85,311.91 187.24,313.28 189.63,314.61 192.01,315.91 194.40,317.18 196.79,318.42 199.17,319.64 201.56,320.82 203.94,321.98 206.33,323.11 208.72,324.22 211.10,325.30 213.49,326.35 215.88,327.38 218.26,328.39 220.65,329.37 223.04,330.33 225.42,331.26 227.81,332.17 230.20,333.06 232.58,333.93 234.97,334.78 237.36,335.61 239.74,336.41 242.13,337.20 244.51,337.97 246.90,338.71 249.29,339.44 251.67,340.15 254.06,340.85 256.45,341.52 258.83,342.18 261.22,342.82 263.61,343.44 265.99,344.05 268.38,344.64 270.77,345.21 273.15,345.77 275.54,346.32 277.92,346.85 280.31,347.36 282.70,347.87 285.08,348.35 287.47,348.83 289.86,349.29 292.24,349.74 294.63,350.17 297.02,350.60 299.40,351.01 301.79,351.41 304.18,351.80 306.56,352.18 308.95,352.54 311.33,352.90 313.72,353.24 316.11,353.58 318.49,353.90 320.88,354.22 323.27,354.52 325.65,354.82 328.04,355.11 330.43,355.39 332.81,355.66 335.20,355.92 337.59,356.17 339.97,356.42 342.36,356.66 344.74,356.89 347.13,357.11 349.52,357.33 351.90,357.53 354.29,357.74 356.68,357.93 359.06,358.12 361.45,358.31 363.84,358.48 366.22,358.66 368.61,358.82 371.00,358.98 373.38,359.14 375.77,359.29 378.15,359.43 380.54,359.57 382.93,359.70 385.31,359.83 387.70,359.96 390.09,360.08 392.47,360.20 394.86,360.31 397.25,360.41 399.63,360.52 402.02,360.62 404.41,360.71 406.79,360.81 409.18,360.90 411.56,360.98 413.95,361.06 416.34,361.14 418.72,361.21 421.11,361.29 423.50,361.35 425.88,361.42 428.27,361.48 430.66,361.54 433.04,361.60 435.43,361.65 437.82,361.70 440.20,361.75 442.59,361.79 444.98,361.84 447.36,361.88 449.75,361.91 452.13,361.95 454.52,361.98 456.91,362.01 459.29,362.03 461.68,362.06 464.07,362.08 466.45,362.10 468.84,362.11 471.23,362.18 473.61,362.26 476.00,362.33 478.39,362.41 480.77,362.48 483.16,362.55 485.54,362.62 487.93,362.69 490.32,362.76 492.70,362.82 495.09,362.88 497.48,362.94 499.86,363.00 502.25,363.06 504.64,363.12 507.02,363.18 509.41,363.23 511.80,363.28 514.18,363.34 516.57,363.39 518.95,363.44 521.34,363.48 523.73,363.53 526.11,363.58 528.50,363.62 530.89,363.67 533.27,363.71 535.66,363.75 538.05,363.79 540.43,363.83 542.82,363.87 545.21,363.91 547.59,363.95 549.98,363.98 552.36,364.02 554.75,364.05 557.14,364.09 559.52,364.12 561.91,364.15 564.30,364.19 566.68,364.22 569.07,364.25 571.46,364.28 573.84,364.30 576.23,364.33 578.62,364.36 581.00,364.39 583.39,364.41 585.77,364.44 588.16,364.46 590.55,364.49 592.93,364.51 595.32,364.53 597.71,364.56 600.09,364.58 602.48,364.60 604.87,364.62 607.25,364.64 609.64,364.66 612.03,364.68 614.41,364.70 616.80,364.72 619.18,364.74 621.57,364.76 623.96,364.77 626.34,364.79 628.73,364.81 631.12,364.82 633.50,364.84 635.89,364.86 638.28,364.87 640.66,364.88 643.05,364.90 645.44,364.91 647.82,364.93 650.21,364.94 652.59,364.95 654.98,364.97 657.37,364.98 659.75,364.99 662.14,365.00 664.53,365.01 666.91,365.03 669.30,365.04" fill="none" stroke="#ff00ff" stroke-width="2.2" stroke-linecap="round" stroke-dasharray="6.2 6.2"/><polyline points="74.05,192.85 75.24,195.32 76.43,197.76 77.62,200.17 78.81,202.53 80.00,204.87 81.19,207.17 82.38,209.44 83.57,211.68 84.76,213.89 85.95,216.06 87.15,218.20 88.34,220.32 89.53,222.40 90.72,224.45 91.91,226.48 93.10,228.47 94.29,230.44 95.48,232.38 96.67,234.29 97.86,236.17 99.05,238.03 100.24,239.86 101.43,241.67 102.62,243.45 103.81,245.20 105.00,246.93 106.19,248.63 107.38,250.32 108.57,251.97 109.76,253.61 110.96,255.22 112.15,256.80 113.34,258.37 114.53,259.91 115.72,261.43 116.91,262.93 118.10,264.41 119.29,265.87 120.48,267.30 121.67,268.72 122.86,270.11 124.05,271.49 125.24,272.85 126.43,274.18 127.62,275.50 128.81,276.80 130.00,278.08 131.19,279.35 132.38,280.59 133.57,281.82 134.77,283.03 135.96,284.22 137.15,285.40 138.34,286.55 139.53,287.70 140.72,288.82 141.91,289.93 143.10,291.03 144.29,292.11 145.48,293.17 146.67,294.22 149.06,296.28 151.44,298.28 153.83,300.22 156.22,302.11 158.60,303.94 160.99,305.72 163.38,307.45 165.76,309.13 168.15,310.77 170.53,312.36 172.92,313.90 175.31,315.40 177.69,316.85 180.08,318.27 182.47,319.64 184.85,320.98 187.24,322.27 189.63,323.53 192.01,324.76 194.40,325.95 196.79,327.10 199.17,328.22 201.56,329.31 203.94,330.37 206.33,331.40 208.72,332.40 211.10,333.37 213.49,334.31 215.88,335.23 218.26,336.11 220.65,336.98 223.04,337.81 225.42,338.63 227.81,339.42 230.20,340.19 232.58,340.93 234.97,341.65 237.36,342.36 239.74,343.04 242.13,343.70 244.51,344.34 246.90,344.97 249.29,345.58 251.67,346.16 254.06,346.74 256.45,347.29 258.83,347.83 261.22,348.35 263.61,348.86 265.99,349.35 268.38,349.83 270.77,350.29 273.15,350.74 275.54,351.18 277.92,351.61 280.31,352.02 282.70,352.42 285.08,352.80 287.47,353.18 289.86,353.55 292.24,353.90 294.63,354.24 297.02,354.58 299.40,354.90 301.79,355.22 304.18,355.52 306.56,355.82 308.95,356.11 311.33,356.38 313.72,356.65 316.11,356.92 318.49,357.17 320.88,357.42 323.27,357.66 325.65,357.89 328.04,358.12 330.43,358.33 332.81,358.55 335.20,358.75 337.59,358.95 339.97,359.15 342.36,359.33 344.74,359.52 347.13,359.69 349.52,359.86 351.90,360.03 354.29,360.19 356.68,360.35 359.06,360.50 361.45,360.65 363.84,360.79 366.22,360.93 368.61,361.06 371.00,361.19 373.38,361.32 375.77,361.44 378.15,361.56 380.54,361.67 382.93,361.79 385.31,361.89 387.70,362.00 390.09,362.10 392.47,362.20 394.86,362.30 397.25,362.39 399.63,362.48 402.02,362.57 404.41,362.65 406.79,362.73 409.18,362.81 411.56,362.89 413.95,362.96 416.34,363.04 418.72,363.11 421.11,363.18 423.50,363.24 425.88,363.31 428.27,363.37 430.66,363.43 433.04,363.49 435.43,363.54 437.82,363.60 440.20,363.65 442.59,363.70 444.98,363.75 447.36,363.80 449.75,363.85 452.13,363.90 454.52,363.94 456.91,363.98 459.29,364.03 461.68,364.07 464.07,364.11 466.45,364.14 468.84,364.18 471.23,364.22 473.61,364.26 476.00,364.29 478.39,364.33 480.77,364.36 483.16,364.39 485.54,364.43 487.93,364.46 490.32,364.49 492.70,364.52 495.09,364.55 497.48,364.57 499.86,364.60 502.25,364.63 504.64,364.65 507.02,364.68 509.41,364.70 511.80,364.72 514.18,364.75 516.57,364.77 518.95,364.79 521.34,364.81 523.73,364.83 526.11,364.85 528.50,364.87 530.89,364.89 533.27,364.90 535.66,364.92 538.05,364.94 540.43,364.95 542.82,364.97 545.21,364.99 547.59,365.00 549.98,365.02 552.36,365.03 554.75,365.04 557.14,365.06 559.52,365.07 561.91,365.08 564.30,365.09 566.68,365.11 569.07,365.12 571.46,365.13 573.84,365.14 576.23,365.15 578.62,365.16 581.00,365.17 583.39,365.18 585.77,365.19 588.16,365.20 590.55,365.21 592.93,365.21 595.32,365.22 597.71,365.23 600.09,365.24 602.48,365.25 604.87,365.25 607.25,365.26 609.64,365.27 612.03,365.27 614.41,365.28 616.80,365.29 619.18,365.29 621.57,365.30 623.96,365.31 626.34,365.31 628.73,365.32 631.12,365.32 633.50,365.33 635.89,365.33 638.28,365.34 640.66,365.34 643.05,365.35 645.44,365.35 647.82,365.36 650.21,365.36 652.59,365.36 654.98,365.37 657.37,365.37 659.75,365.38 662.14,365.38 664.53,365.38 666.91,365.39 669.30,365.39" fill="none" stroke="#0000ff" stroke-width="2.2" stroke-linecap="round" stroke-dasharray="6.2 6.2"/><polyline points="74.05,192.85 75.24,195.59 76.43,198.29 77.62,200.97 78.81,203.62 80.00,206.23 81.19,208.82 82.38,211.38 83.57,213.90 84.76,216.40 85.95,218.87 87.15,221.30 88.34,223.71 89.53,226.08 90.72,228.43 91.91,230.74 93.10,233.02 94.29,235.28 95.48,237.50 96.67,239.70 97.86,241.86 99.05,244.00 100.24,246.10 101.43,248.18 102.62,250.22 103.81,252.24 105.00,254.23 106.19,256.19 107.38,258.12 108.57,260.03 109.76,261.90 110.96,263.75 112.15,265.57 113.34,267.36 114.53,269.13 115.72,270.87 116.91,272.58 118.10,274.27 119.29,275.92 120.48,277.56 121.67,279.17 122.86,280.75 124.05,282.31 125.24,283.84 126.43,285.35 127.62,286.84 128.81,288.30 130.00,289.74 131.19,291.15 132.38,292.54 133.57,293.91 134.77,295.26 135.96,296.58 137.15,297.88 138.34,299.16 139.53,300.42 140.72,301.66 141.91,302.88 143.10,304.07 144.29,305.25 145.48,306.41 146.67,307.54 149.06,309.77 151.44,311.91 153.83,313.99 156.22,315.99 158.60,317.92 160.99,319.79 163.38,321.59 165.76,323.32 168.15,325.00 170.53,326.62 172.92,328.18 175.31,329.69 177.69,331.14 180.08,332.54 182.47,333.89 184.85,335.19 187.24,336.44 189.63,337.65 192.01,338.82 194.40,339.94 196.79,341.02 199.17,342.06 201.56,343.07 203.94,344.04 206.33,344.97 208.72,345.86 211.10,346.73 213.49,347.56 215.88,348.36 218.26,349.13 220.65,349.87 223.04,350.58 225.42,351.27 227.81,351.92 230.20,352.56 232.58,353.17 234.97,353.75 237.36,354.32 239.74,354.86 242.13,355.37 244.51,355.87 246.90,356.35 249.29,356.81 251.67,357.25 254.06,357.67 256.45,358.08 258.83,358.46 261.22,358.84 263.61,359.19 265.99,359.53 268.38,359.86 270.77,360.17 273.15,360.47 275.54,360.75 277.92,361.02 280.31,361.28 282.70,361.53 285.08,361.76 287.47,361.99 289.86,362.20 292.24,362.40 294.63,362.60 297.02,362.78 299.40,362.96 301.79,363.12 304.18,363.28 306.56,363.43 308.95,363.57 311.33,363.70 313.72,363.82 316.11,363.94 318.49,364.05 320.88,364.16 323.27,364.26 325.65,364.35 328.04,364.44 330.43,364.52 332.81,364.60 335.20,364.67 337.59,364.74 339.97,364.80 342.36,364.86 344.74,364.91 347.13,364.96 349.52,365.01 351.90,365.05 354.29,365.09 356.68,365.13 359.06,365.16 361.45,365.20 363.84,365.22 366.22,365.25 368.61,365.28 371.00,365.30 373.38,365.32 375.77,365.34 378.15,365.35 380.54,365.37 382.93,365.38 385.31,365.40 387.70,365.41 390.09,365.42 392.47,365.43 394.86,365.43 397.25,365.43 399.63,365.44 402.02,365.44 404.41,365.44 406.79,365.45 409.18,365.45 411.56,365.45 413.95,365.46 416.34,365.46 418.72,365.46 421.11,365.46 423.50,365.46 425.88,365.47 428.27,365.47 430.66,365.47 433.04,365.47 435.43,365.47 437.82,365.48 440.20,365.48 442.59,365.48 444.98,365.48 447.36,365.48 449.75,365.48 452.13,365.48 454.52,365.48 456.91,365.48 459.29,365.49 461.68,365.49 464.07,365.49 466.45,365.49 468.84,365.49 471.23,365.49 473.61,365.49 476.00,365.49 478.39,365.49 480.77,365.49 483.16,365.49 485.54,365.49 487.93,365.49 490.32,365.49 492.70,365.49 495.09,365.49 497.48,365.49 499.86,365.49 502.25,365.49 504.64,365.50 507.02,365.50 509.41,365.50 511.80,365.50 514.18,365.50 516.57,365.50 518.95,365.50 521.34,365.50 523.73,365.50 526.11,365.50 528.50,365.50 530.89,365.50 533.27,365.50 535.66,365.50 538.05,365.50 540.43,365.50 542.82,365.50 545.21,365.50 547.59,365.50 549.98,365.50 552.36,365.50 554.75,365.50 557.14,365.50 559.52,365.50 561.91,365.50 564.30,365.50 566.68,365.50 569.07,365.50 571.46,365.50 573.84,365.50 576.23,365.50 578.62,365.50 581.00,365.50 583.39,365.50 585.77,365.50 588.16,365.50 590.55,365.50 592.93,365.50 595.32,365.50 597.71,365.50 600.09,365.50 602.48,365.50 604.87,365.50 607.25,365.50 609.64,365.50 612.03,365.50 614.41,365.50 616.80,365.50 619.18,365.50 621.57,365.50 623.96,365.50 626.34,365.50 628.73,365.50 631.12,365.50 633.50,365.50 635.89,365.50 638.28,365.50 640.66,365.50 643.05,365.50 645.44,365.50 647.82,365.50 650.21,365.50 652.59,365.50 654.98,365.50 657.37,365.50 659.75,365.50 662.14,365.50 664.53,365.50 666.91,365.50 669.30,365.50" fill="none" stroke="#000000" stroke-width="2.2" stroke-linecap="round" stroke-dasharray="6.2 6.2"/>
</g>
<clipPath id="c"><rect x="61.6" y="1.5" width="620.4" height="382.8"/></clipPath>
<rect x="571.5" y="7.5" width="107" height="190.5" fill="#fff" stroke="#4a4a4a" stroke-width="1.3"/>
<g font-family="Liberation Sans" font-style="italic" font-size="22">
<g fill="#ff0000"><text transform="translate(595.0,28.30) scale(1.08,1) skewX(-6)" font-family="Liberation Serif" font-size="25.5" stroke="#ff0000" stroke-width="0">α</text><text x="613" y="28.30">=</text><text x="626.5" y="28.30">0.2</text></g><g fill="#ff00ff"><text transform="translate(595.0,51.70) scale(1.08,1) skewX(-6)" font-family="Liberation Serif" font-size="25.5" stroke="#ff00ff" stroke-width="0">α</text><text x="613" y="51.70">=</text><text x="626.5" y="51.70">0.5</text></g><g fill="#0000ff"><text transform="translate(595.0,75.10) scale(1.08,1) skewX(-6)" font-family="Liberation Serif" font-size="25.5" stroke="#0000ff" stroke-width="0">α</text><text x="613" y="75.10">=</text><text x="626.5" y="75.10">0.7</text></g><g fill="#000000"><text transform="translate(595.0,98.50) scale(1.08,1) skewX(-6)" font-family="Liberation Serif" font-size="25.5" stroke="#000000" stroke-width="0">α</text><text x="613" y="98.50">=</text><text x="626.5" y="98.50">1</text></g><g fill="#ff0000"><text transform="translate(595.0,121.90) scale(1.08,1) skewX(-6)" font-family="Liberation Serif" font-size="25.5" stroke="#ff0000" stroke-width="0">α</text><text x="613" y="121.90">=</text><text x="626.5" y="121.90">0.2</text></g><g fill="#ff00ff"><text transform="translate(595.0,145.30) scale(1.08,1) skewX(-6)" font-family="Liberation Serif" font-size="25.5" stroke="#ff00ff" stroke-width="0">α</text><text x="613" y="145.30">=</text><text x="626.5" y="145.30">0.5</text></g><g fill="#0000ff"><text transform="translate(595.0,168.70) scale(1.08,1) skewX(-6)" font-family="Liberation Serif" font-size="25.5" stroke="#0000ff" stroke-width="0">α</text><text x="613" y="168.70">=</text><text x="626.5" y="168.70">0.7</text></g><g fill="#000000"><text transform="translate(595.0,192.10) scale(1.08,1) skewX(-6)" font-family="Liberation Serif" font-size="25.5" stroke="#000000" stroke-width="0">α</text><text x="613" y="192.10">=</text><text x="626.5" y="192.10">1</text></g>
</g>
</svg></body></html>
